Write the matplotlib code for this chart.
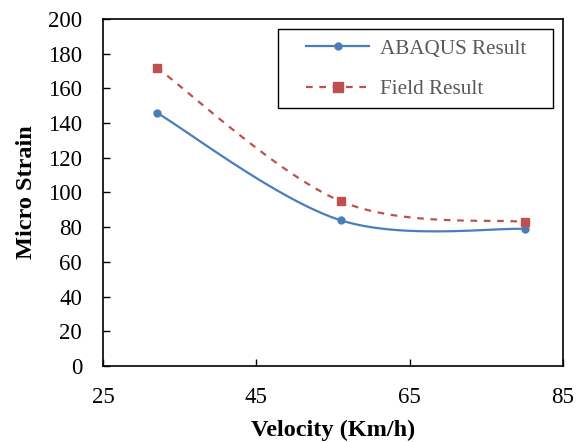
import numpy as np
import matplotlib
matplotlib.use("Agg")
from matplotlib import pyplot as plt
from matplotlib.patches import Rectangle

velocity = [32, 56, 80]
abaqus = [146, 84, 79]
field = [172, 95, 83]


def smooth(xs, ys, n=60):
    # Excel-like smoothed line (Catmull-Rom bezier)
    p = np.column_stack([xs, ys]).astype(float)
    out = []
    for i in range(len(p) - 1):
        p0 = p[i - 1] if i > 0 else p[i]
        p1, p2 = p[i], p[i + 1]
        p3 = p[i + 2] if i + 2 < len(p) else p[i + 1]
        c1 = p1 + (p2 - p0) / 6
        c2 = p2 - (p3 - p1) / 6
        t = np.linspace(0, 1, n)[:, None]
        seg = (1-t)**3*p1 + 3*(1-t)**2*t*c1 + 3*(1-t)*t**2*c2 + t**3*p2
        out.append(seg)
    s = np.vstack(out)
    return s[:, 0], s[:, 1]


plt.rcParams['font.family'] = ['Liberation Serif', 'DejaVu Serif']

fig = plt.figure(figsize=(5.87, 4.42), dpi=100)
ax = fig.add_axes([0.1755, 0.172, 0.7835, 0.785])

blue = '#4a7ebb'
red = '#c0504d'

sx, sy = smooth(velocity, abaqus)
ax.plot(sx, sy, color=blue, lw=1.6)
ax.plot(velocity, abaqus, 'o', color=blue, ms=5)
ax.plot([], [], '-o', color=blue, lw=1.6, ms=5, label='ABAQUS Result')

fx, fy = smooth(velocity, field)
ax.plot(fx, fy, '--', color=red, lw=1.6, dashes=(3, 3))
ax.plot(velocity, field, 's', color=red, ms=5.5)
ax.plot([], [], '--s', color=red, lw=1.6, dashes=(3, 3), ms=7, label='Field Result')

ax.set_xlim(25, 85)
ax.set_ylim(0, 200)
ax.set_xticks([25, 45, 65, 85])
ax.set_yticks(range(0, 201, 20))
ax.tick_params(direction='in', labelsize=16.5, length=5, width=1, pad=15)
ax.tick_params(axis='x', pad=15)
for s in ax.spines.values():
    s.set_linewidth(1.2)

ax.set_xlabel('Velocity (Km/h)', fontsize=17.5, fontweight='bold', labelpad=9)
ax.set_ylabel('Micro Strain', fontsize=17.5, fontweight='bold', labelpad=8)

# legend box drawn separately (Excel-style padding)
ax.add_patch(Rectangle((0.380, 0.744), 0.598, 0.227, transform=ax.transAxes,
                       fill=False, edgecolor='black', lw=1.0, zorder=5))
leg = ax.legend(loc='upper left', bbox_to_anchor=(0.441, 0.943), fontsize=15.2,
                frameon=False, handlelength=3.0, borderpad=0, labelspacing=1.0,
                handletextpad=0.5, borderaxespad=0)
for t in leg.get_texts():
    t.set_color('#595959')

fig.savefig('out.png', dpi=100)
